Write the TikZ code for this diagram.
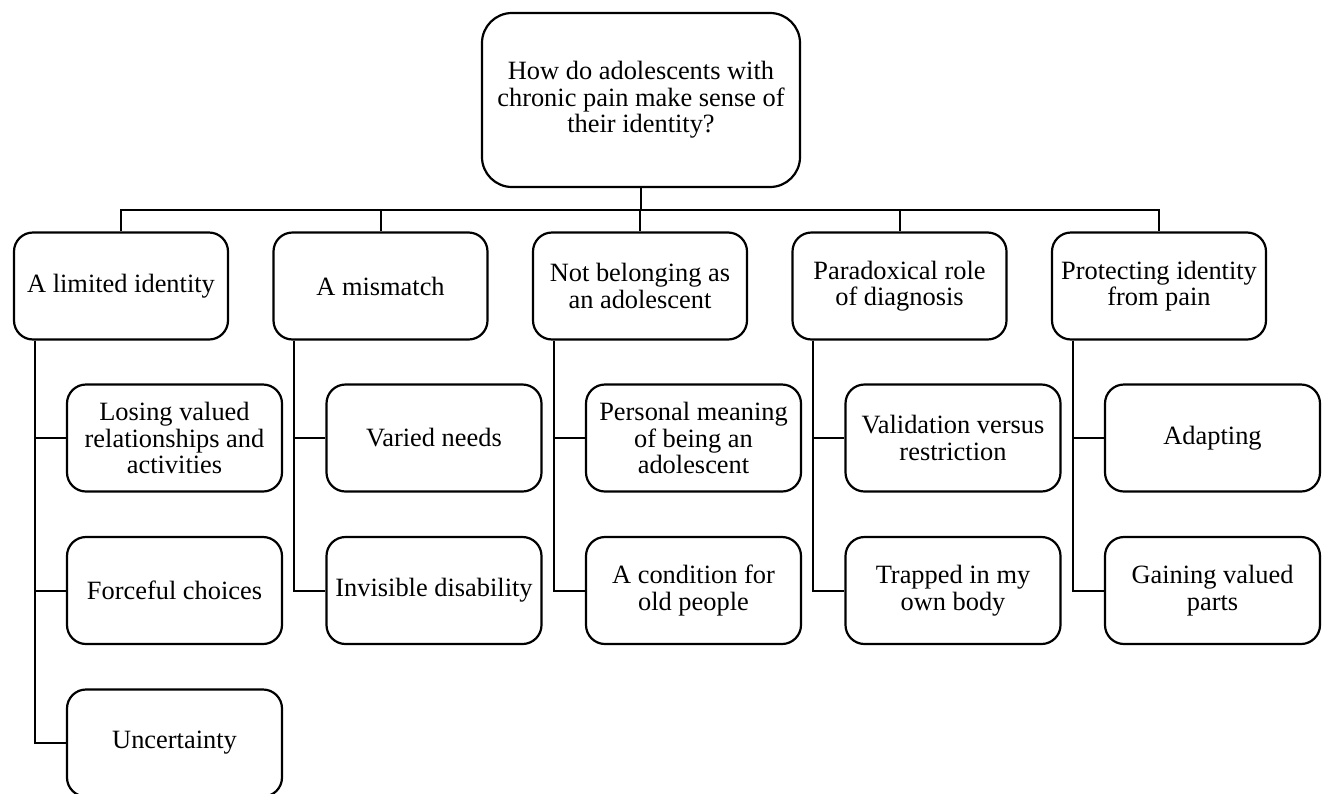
\documentclass[tikz,border=0pt]{standalone}
\usepackage{fontspec}
\setmainfont{Liberation Serif}
\usetikzlibrary{positioning,calc}
\tikzstyle{nRoot}=[rectangle,rounded corners=15pt,draw,line width=1.1pt,minimum width=159pt,minimum height=87pt,inner sep=0pt,align=center,font=\fontsize{13.2}{13.2}\selectfont]
\tikzstyle{nCat}=[rectangle,rounded corners=9.5pt,draw,line width=1.1pt,minimum width=107pt,minimum height=53.5pt,inner sep=0pt,align=center,font=\fontsize{13.2}{13.3}\selectfont]
\tikzstyle{nSub}=[nCat,minimum width=107.5pt,minimum height=53.5pt]
\tikzstyle{eLine}=[line width=1pt,draw=black]
\begin{document}
\begin{tikzpicture}[x=0.5pt,y=-0.5pt]%[1 unit = 1 px of the original]
                \useasboundingbox (0,0) rectangle (1322,793);
                % question
                \draw (641,100) node[nRoot] (nR) {How do adolescents with\\chronic pain make sense of\\their identity?};
                % themes
                \draw (121,286) node[nCat] (n1) {A limited identity};
                \draw (380.5,286) node[nCat] (n2) {A mismatch};
                \draw (640,286) node[nCat] (n3) {Not belonging as\\an adolescent};
                \draw (899.5,286) node[nCat] (n4) {Paradoxical role\\of diagnosis};
                \draw (1159,286) node[nCat] (n5) {Protecting identity\\from pain};
                % subthemes
                \draw (174.5,438) node[nSub] (n11) {Losing valued\\relationships and\\activities};
                \draw (174.5,590.5) node[nSub] (n12) {Forceful choices};
                \draw (174.5,743) node[nSub] (n13) {Uncertainty};
                \draw (434,438) node[nSub] (n21) {Varied needs};
                \draw (434,590.5) node[nSub] (n22) {Invisible disability};
                \draw (693.5,438) node[nSub] (n31) {Personal meaning\\of being an\\adolescent};
                \draw (693.5,590.5) node[nSub] (n32) {A condition for\\old people};
                \draw (953,438) node[nSub] (n41) {Validation versus\\restriction};
                \draw (953,590.5) node[nSub] (n42) {Trapped in my\\own body};
                \draw (1212.5,438) node[nSub] (n51) {Adapting};
                \draw (1212.5,590.5) node[nSub] (n52) {Gaining valued\\parts};
                % links
                \draw[eLine] (nR.south) -- ++(0,22) -| (n1.north);
                \draw[eLine] (nR.south) -- ++(0,22) -| (n2.north);
                \draw[eLine] (nR.south) -- ++(0,22) -| (n3.north);
                \draw[eLine] (nR.south) -- ++(0,22) -| (n4.north);
                \draw[eLine] (nR.south) -- ++(0,22) -| (n5.north);
                \draw[eLine] ([xshift=11pt]n1.south west) |- (n11.west);
                \draw[eLine] ([xshift=11pt]n1.south west) |- (n12.west);
                \draw[eLine] ([xshift=11pt]n1.south west) |- (n13.west);
                \draw[eLine] ([xshift=11pt]n2.south west) |- (n21.west);
                \draw[eLine] ([xshift=11pt]n2.south west) |- (n22.west);
                \draw[eLine] ([xshift=11pt]n3.south west) |- (n31.west);
                \draw[eLine] ([xshift=11pt]n3.south west) |- (n32.west);
                \draw[eLine] ([xshift=11pt]n4.south west) |- (n41.west);
                \draw[eLine] ([xshift=11pt]n4.south west) |- (n42.west);
                \draw[eLine] ([xshift=11pt]n5.south west) |- (n51.west);
                \draw[eLine] ([xshift=11pt]n5.south west) |- (n52.west);
\end{tikzpicture}
\end{document}
